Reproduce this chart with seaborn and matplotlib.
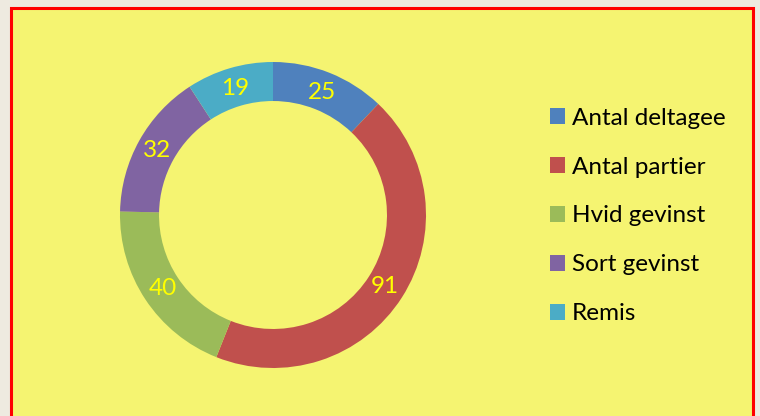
import matplotlib
matplotlib.use("Agg")
import matplotlib.pyplot as plt
import seaborn as sns
from matplotlib.patches import Rectangle, Patch

categories = ["Antal deltagee", "Antal partier", "Hvid gevinst", "Sort gevinst", "Remis"]
values = [25, 91, 40, 32, 19]
colors = ["#4F81BD", "#C0504D", "#9BBB59", "#8064A2", "#4BACC6"]

sns.set_theme(style="white")
plt.rcParams['font.family'] = ['Lato', 'DejaVu Sans']

W, H = 760, 416
fig = plt.figure(figsize=(W / 100, H / 100), dpi=100)
fig.patch.set_facecolor("#EEEAE0")

# yellow panel with red border (bottom edge runs off the image)
fig.patches.append(Rectangle((11 / W, -0.05), (753 - 11) / W, (H - 8) / H + 0.05,
                             transform=fig.transFigure, facecolor="#F5F471",
                             edgecolor="#FF0000", linewidth=2.2, zorder=-5))

cx, cy, R = 273, 215, 153
ax = fig.add_axes([(cx - R) / W, (H - cy - R) / H, 2 * R / W, 2 * R / H])
ax.set_zorder(2)
ax.set_facecolor("none")
wedges, texts, autotexts = ax.pie(values, colors=colors, startangle=90, counterclock=False,
                                  radius=1.0, wedgeprops=dict(width=0.255, linewidth=0),
                                  autopct=lambda p: f"{round(p * sum(values) / 100):d}",
                                  pctdistance=0.865,
                                  textprops=dict(color="#FFFF00", fontsize=17.5))
ax.set_xlim(-1, 1)
ax.set_ylim(-1, 1)
ax.set_aspect("equal")
ax.axis("off")

handles = [Patch(facecolor=c, edgecolor="none") for c in colors]
leg = fig.legend(handles, categories, loc="center left", bbox_to_anchor=(538 / W, (H - 216) / H),
                 frameon=False, fontsize=17.5, handlelength=0.6, handleheight=0.6,
                 handletextpad=0.3, labelspacing=1.15, borderpad=0)
leg.set_zorder(3)
for t in leg.get_texts():
    t.set_color("#000000")

fig.savefig("out.png", dpi=100, facecolor=fig.get_facecolor())
